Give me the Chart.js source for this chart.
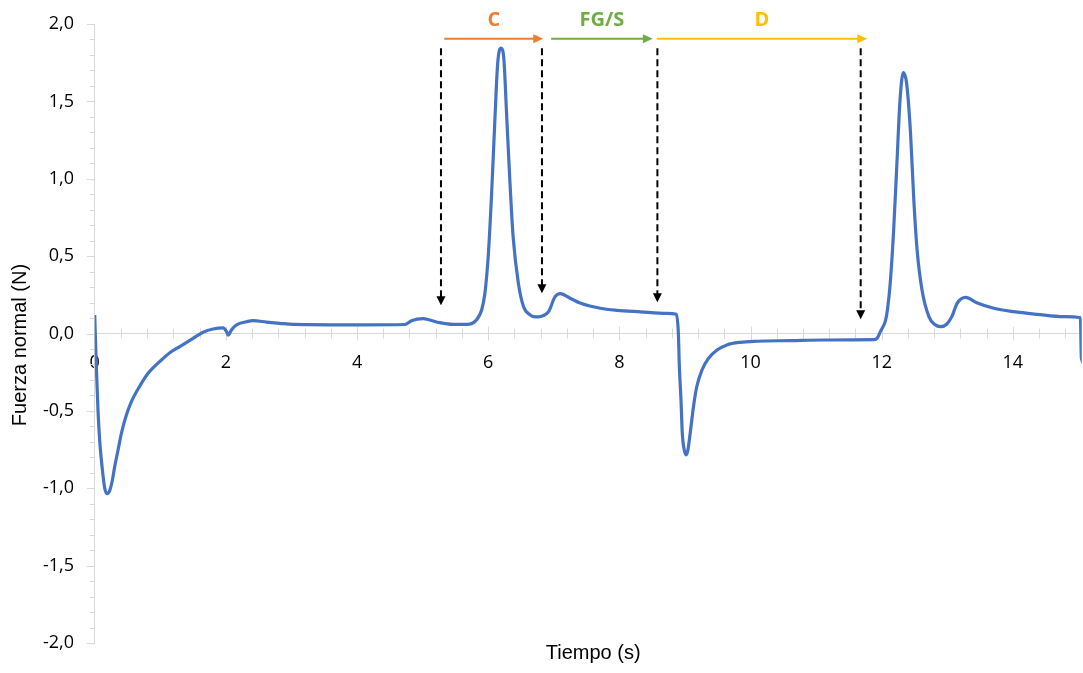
<!DOCTYPE html>
<html>
<head>
<meta charset="utf-8">
<script src="https://cdn.jsdelivr.net/npm/chart.js@4.4.1/dist/chart.umd.min.js"></script>
<style>
  html, body { margin: 0; padding: 0; background: #ffffff; }
  canvas { display: block; }
</style>
</head>
<body>
<canvas id="grafico" width="1083" height="673"></canvas>
<script>
// Registro de fuerza normal frente al tiempo
const tiempo = [
  0, 0.025, 0.05, 0.076, 0.117, 0.153, 0.188, 0.229, 0.27, 0.305,
  0.356, 0.407, 0.483, 0.56, 0.687, 0.814, 0.99, 1.145, 1.297, 1.5,
  1.653, 1.805, 1.958, 2.01, 2.035, 2.085, 2.16, 2.315, 2.415, 2.62,
  2.82, 3.03, 4.04, 4.73, 4.83, 5.01, 5.11, 5.26, 5.47, 5.72,
  5.82, 5.9, 5.95, 6.0, 6.05, 6.1, 6.145, 6.195, 6.24, 6.28,
  6.33, 6.38, 6.46, 6.54, 6.64, 6.72, 6.8, 6.92, 7.02, 7.1, 7.25,
  7.4, 7.71, 7.96, 8.32, 8.72, 8.87, 8.9, 8.915, 8.94, 8.96,
  8.99, 9.02, 9.045, 9.08, 9.13, 9.18, 9.26, 9.36, 9.49, 9.64,
  9.84, 10.1, 10.61, 11.11, 11.88, 11.93, 11.98, 12.06, 12.09, 12.13,
  12.18, 12.23, 12.28, 12.33, 12.38, 12.44, 12.49, 12.54, 12.615, 12.72,
  12.81, 12.9, 12.99, 13.07, 13.15, 13.28, 13.45, 13.71, 14.01, 14.37, 14.78,
  15.03, 15.045, 15.1
];
const fuerza = [
  0.12, -0.215, -0.495, -0.69, -0.88, -1.0, -1.035, -1.015, -0.947, -0.86,
  -0.753, -0.645, -0.527, -0.44, -0.34, -0.257, -0.182, -0.124, -0.085, -0.031,
  0.008, 0.029, 0.036, 0.012, -0.01, 0.023, 0.055, 0.076, 0.083, 0.074,
  0.066, 0.059, 0.056, 0.058, 0.083, 0.096, 0.087, 0.07, 0.059, 0.061,
  0.087, 0.152, 0.26, 0.496, 0.884, 1.36, 1.747, 1.844, 1.768, 1.423,
  0.992, 0.626, 0.325, 0.173, 0.12, 0.107, 0.11, 0.141, 0.238, 0.258, 0.228,
  0.197, 0.163, 0.15, 0.14, 0.13, 0.124, 0.0, -0.215, -0.43, -0.645,
  -0.753, -0.785, -0.753, -0.645, -0.473, -0.344, -0.236, -0.16, -0.107, -0.074,
  -0.057, -0.05, -0.046, -0.042, -0.04, -0.031, 0.012, 0.087, 0.16, 0.324,
  0.648, 1.078, 1.51, 1.686, 1.617, 1.294, 0.863, 0.54, 0.281, 0.109,
  0.058, 0.044, 0.06, 0.109, 0.195, 0.234, 0.199, 0.163, 0.141, 0.124, 0.109,
  0.102, -0.16, -0.2
];

// Fases del ensayo y marcas de transición
const fases = ['C', 'FG/S', 'D'];
const faseInicio = [5.33, 6.96, 8.57];
const faseFin = [6.84, 8.51, 11.78];
const marcasTiempo = [5.28, 6.82, 8.58, 11.68];
const marcasFuerza = [0.183, 0.26, 0.202, 0.092];

const coloresFase = ['#ED7D31', '#70AD47', '#FFC000'];
const colorEje = '#d9d9d9';

const esMultiplo = (v, paso) => Math.abs(v / paso - Math.round(v / paso)) < 1e-6;
const coma = v => v.toFixed(1).replace('-0.0', '0.0').replace('.', ',');

// Marcas de división principales y secundarias, dibujadas sobre las escalas
const marcasEjes = {
  id: 'marcasEjes',
  beforeDatasetsDraw(chart) {
    const { ctx, scales: { x, y }, chartArea } = chart;
    const y0 = y.getPixelForValue(0);
    ctx.save();
    ctx.strokeStyle = colorEje;
    ctx.lineWidth = 1;
    ctx.beginPath();
    for (let i = 0; i * 0.4 <= x.max + 1e-9; i++) {
      const v = i * 0.4;
      const px = Math.round(x.getPixelForValue(v)) + 0.5;
      const largo = esMultiplo(v, 2) ? 7 : 5;
      ctx.moveTo(px, y0 - largo);
      ctx.lineTo(px, y0 + largo);
    }
    for (let i = -20; i <= 20; i++) {
      const v = i / 10;
      const py = Math.round(y.getPixelForValue(v)) + 0.5;
      const largo = esMultiplo(v, 0.5) ? 8 : 5;
      ctx.moveTo(chartArea.left - largo, py);
      ctx.lineTo(chartArea.left, py);
    }
    ctx.stroke();
    ctx.restore();
  }
};

// Títulos de los ejes
const titulosEjes = {
  id: 'titulosEjes',
  afterDraw(chart) {
    const { ctx, chartArea } = chart;
    ctx.save();
    ctx.fillStyle = '#000000';
    ctx.font = '20px "Liberation Sans", Arial, sans-serif';
    ctx.textAlign = 'center';
    ctx.textBaseline = 'middle';
    ctx.fillText('Tiempo (s)', (chartArea.left + chartArea.right) / 2 + 5, 653);
    ctx.translate(20, 345);
    ctx.rotate(-Math.PI / 2);
    ctx.fillText('Fuerza normal (N)', 0, 0);
    ctx.restore();
  }
};

// Flechas de fase y líneas discontinuas de transición
const flechasFase = {
  id: 'flechasFase',
  afterDatasetsDraw(chart) {
    const { ctx, scales: { x, y } } = chart;
    ctx.save();

    // Líneas discontinuas verticales con punta de flecha hacia abajo
    const yArriba = y.getPixelForValue(1.844);
    marcasTiempo.forEach((t, i) => {
      const px = x.getPixelForValue(t);
      const punta = y.getPixelForValue(marcasFuerza[i]);
      ctx.strokeStyle = '#000000';
      ctx.lineWidth = 2;
      ctx.setLineDash([7, 4]);
      ctx.beginPath();
      ctx.moveTo(px, yArriba);
      ctx.lineTo(px, punta - 8);
      ctx.stroke();
      ctx.setLineDash([]);
      ctx.fillStyle = '#000000';
      ctx.beginPath();
      ctx.moveTo(px - 4.5, punta - 9);
      ctx.lineTo(px + 4.5, punta - 9);
      ctx.lineTo(px, punta);
      ctx.closePath();
      ctx.fill();
    });

    // Flechas horizontales y rótulos de cada fase
    const yFlecha = y.getPixelForValue(1.904);
    const yTexto = y.getPixelForValue(2.025);
    ctx.font = 'bold 20px "Open Sans", sans-serif';
    ctx.textAlign = 'center';
    ctx.textBaseline = 'middle';
    fases.forEach((nombre, i) => {
      const x1 = x.getPixelForValue(faseInicio[i]);
      const x2 = x.getPixelForValue(faseFin[i]);
      ctx.strokeStyle = coloresFase[i];
      ctx.fillStyle = coloresFase[i];
      ctx.lineWidth = 2;
      ctx.beginPath();
      ctx.moveTo(x1, yFlecha);
      ctx.lineTo(x2 - 9, yFlecha);
      ctx.stroke();
      ctx.beginPath();
      ctx.moveTo(x2 - 10, yFlecha - 4.5);
      ctx.lineTo(x2, yFlecha);
      ctx.lineTo(x2 - 10, yFlecha + 4.5);
      ctx.closePath();
      ctx.fill();
      ctx.fillText(nombre, (x1 + x2) / 2, yTexto);
    });
    ctx.restore();
  }
};

Chart.defaults.font.family = '"Open Sans", sans-serif';
Chart.defaults.color = '#000000';

new Chart(document.getElementById('grafico'), {
  type: 'line',
  data: {
    datasets: [{
      data: tiempo.map((t, i) => ({ x: t, y: fuerza[i] })),
      borderColor: '#4472C4',
      borderWidth: 3.2,
      pointRadius: 0,
      fill: false,
      cubicInterpolationMode: 'monotone'
    }]
  },
  options: {
    responsive: false,
    devicePixelRatio: 1,
    animation: false,
    layout: { padding: { top: 24, right: 1.3, bottom: 30, left: 0 } },
    plugins: { legend: { display: false }, tooltip: { enabled: false } },
    scales: {
      x: {
        type: 'linear',
        position: { y: 0 },
        min: 0,
        max: 15.05,
        grid: { display: true, drawOnChartArea: false, drawTicks: false },
        border: { display: true, color: colorEje, width: 1 },
        ticks: {
          stepSize: 0.4,
          autoSkip: false,
          maxRotation: 0,
          padding: 19,
          font: { size: 18 },
          color: '#000000',
          callback: v => esMultiplo(v, 2) ? String(Math.round(v)) : ''
        },
        afterFit: s => {
          s.height = 0;
          s.paddingLeft = 0; s.paddingRight = 0; s.paddingTop = 0; s.paddingBottom = 0;
        }
      },
      y: {
        type: 'linear',
        min: -2,
        max: 2,
        grid: { display: true, drawOnChartArea: false, drawTicks: false },
        border: { display: true, color: colorEje, width: 1 },
        ticks: {
          stepSize: 0.1,
          autoSkip: false,
          padding: 20.7,
          font: { size: 18 },
          color: '#000000',
          callback: v => esMultiplo(v, 0.5) ? coma(v) : ''
        },
        afterFit: s => {
          s.width = 94.7;
          s.paddingLeft = 0; s.paddingRight = 0; s.paddingTop = 0; s.paddingBottom = 0;
        }
      }
    }
  },
  plugins: [marcasEjes, flechasFase, titulosEjes]
});
</script>
</body>
</html>
